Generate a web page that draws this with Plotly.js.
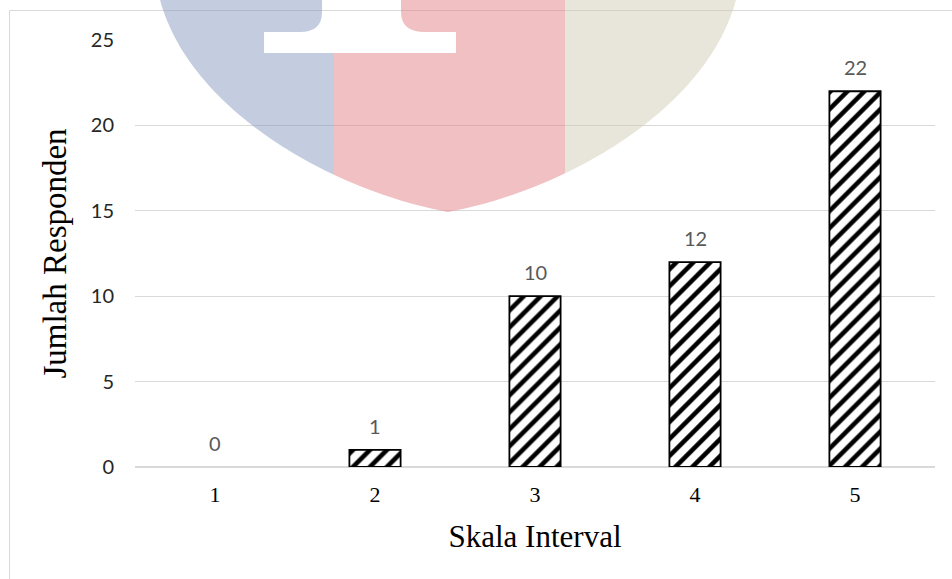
<!DOCTYPE html>
<html>
<head>
<meta charset="utf-8">
<script src="https://cdn.plot.ly/plotly-3.0.1.min.js"></script>
<style>html,body{margin:0;padding:0;background:#fff;}#chart{width:952px;height:579px;}</style>
</head>
<body>
<div id="chart"></div>
<script>
// ---- data ----
const categories = [1, 2, 3, 4, 5];
const respondents = [0, 1, 10, 12, 22];
const yTickValues = [0, 5, 10, 15, 20, 25];
const xTickLabels = ['1', '2', '3', '4', '5'];
const xTitle = 'Skala Interval';
const yTitle = 'Jumlah Responden';

// ---- layout geometry ----
const W = 952, H = 579;
const M = {l: 135, r: 17, t: 40, b: 112};
const PW = W - M.l - M.r, PH = H - M.t - M.b;
const px = x => ((x - M.l) / PW).toFixed(4);
const py = y => ((H - M.b - y) / PH).toFixed(4);
const P = (x, y) => px(x) + ',' + py(y);

// watermark (decorative shield) outline, pixel space
function bez(p0, p1, p2, p3, t) {
  const u = 1 - t;
  return [u*u*u*p0[0] + 3*u*u*t*p1[0] + 3*u*t*t*p2[0] + t*t*t*p3[0],
          u*u*u*p0[1] + 3*u*u*t*p1[1] + 3*u*t*t*p2[1] + t*t*t*p3[1]];
}
const cx = 448;
const leftCurve = [];
for (let i = 0; i <= 60; i++) leftCurve.push(bez([160, 0], [190, 110], [330, 190], [cx, 212], i / 60));
const rightCurve = leftCurve.slice().reverse().map(p => [2 * cx - p[0], p[1]]);
const outline = [[150, -30]].concat(leftCurve, rightCurve.slice(1), [[2 * cx - 150, -30]]);
function cutAt(xc) {
  for (let i = 1; i < outline.length; i++) {
    const a = outline[i - 1], b = outline[i];
    if ((a[0] - xc) * (b[0] - xc) <= 0 && a[0] !== b[0] && a[1] > 0 && b[1] > 0) {
      const f = (xc - a[0]) / (b[0] - a[0]);
      return [i, [xc, a[1] + f * (b[1] - a[1])]];
    }
  }
}
const b1 = 334, b2 = 565;
const c1 = cutAt(b1), c2 = cutAt(b2);
function pathFrom(pts) { return 'M' + pts.map(p => P(p[0], p[1])).join('L'); }

const bluePts = outline.slice(0, c1[0]).concat([c1[1], [b1, 53], [264, 53], [264, 32], [300, 32]]);
const bluePath = pathFrom(bluePts) + 'Q' + P(322, 32) + ' ' + P(322, 12) + 'L' + P(322, -30) + 'Z';
const redStart = [[b1, 53], [456, 53], [456, 32], [425, 32]];
const redPath = pathFrom(redStart) + 'Q' + P(401, 32) + ' ' + P(401, 12) + 'L' + P(401, -30) + 'L' + P(b2, -30) + 'L' +
  P(c2[1][0], c2[1][1]) + 'L' + outline.slice(c1[0], c2[0]).reverse().map(p => P(p[0], p[1])).join('L') + 'L' + P(c1[1][0], c1[1][1]) + 'Z';
const beigePts = [[b2, -30]].concat([c2[1]], outline.slice(c2[0]));
const beigePath = pathFrom(beigePts) + 'Z';

const shapes = [
  {type: 'rect', xref: 'paper', yref: 'paper', x0: px(9.5), y0: py(10.5), x1: px(W + 20), y1: py(H + 20),
   line: {color: '#d9d9d9', width: 1}, fillcolor: 'rgba(0,0,0,0)', layer: 'below'},
  {type: 'path', xref: 'paper', yref: 'paper', path: bluePath, fillcolor: 'rgba(137,155,193,0.5)', line: {width: 0}, layer: 'above'},
  {type: 'path', xref: 'paper', yref: 'paper', path: redPath, fillcolor: 'rgba(225,129,135,0.5)', line: {width: 0}, layer: 'above'},
  {type: 'path', xref: 'paper', yref: 'paper', path: beigePath, fillcolor: 'rgba(209,205,181,0.5)', line: {width: 0}, layer: 'above'}
];

const labelFont = {family: 'Lato, "Open Sans", sans-serif', size: 20, color: '#595959'};
const annotations = categories.map((c, i) => ({
  x: c, y: respondents[i], text: String(respondents[i]), showarrow: false,
  yshift: 24, font: labelFont, xref: 'x', yref: 'y'
}));

const trace = {
  type: 'bar', x: categories, y: respondents, width: 0.32,
  marker: {
    color: 'white',
    pattern: {shape: '/', fgcolor: 'black', bgcolor: 'white', size: 12, solidity: 0.38, fillmode: 'replace'},
    line: {color: 'black', width: respondents.map(v => (v > 0 ? 1.8 : 0))}
  },
  hoverinfo: 'none'
};

const serif = '"Liberation Serif", "Times New Roman", serif';
const layout = {
  width: W, height: H,
  margin: M,
  paper_bgcolor: 'white', plot_bgcolor: 'rgba(0,0,0,0)',
  showlegend: false,
  font: {family: 'Lato, sans-serif'},
  xaxis: {
    type: 'linear', range: [0.5, 5.5], tickvals: categories, ticktext: xTickLabels,
    showgrid: false, zeroline: false, showline: false, ticks: '',
    ticklabelstandoff: 12,
    tickfont: {family: serif, size: 22, color: '#000000'},
    title: {text: xTitle, standoff: 19, font: {family: serif, size: 31, color: '#000000'}}
  },
  yaxis: {
    range: [0, 25], tickvals: yTickValues, showgrid: true, gridcolor: '#d9d9d9', gridwidth: 1,
    zeroline: true, zerolinecolor: '#d9d9d9', zerolinewidth: 1.5, showline: false, ticks: '',
    ticklabelstandoff: 20,
    tickfont: {family: 'Lato, "Open Sans", sans-serif', size: 20, color: '#262626'},
    title: {text: yTitle, standoff: 14, font: {family: serif, size: 33, color: '#000000'}}
  },
  shapes: shapes,
  annotations: annotations
};

Plotly.newPlot('chart', [trace], layout, {displayModeBar: false, staticPlot: true});
</script>
</body>
</html>
